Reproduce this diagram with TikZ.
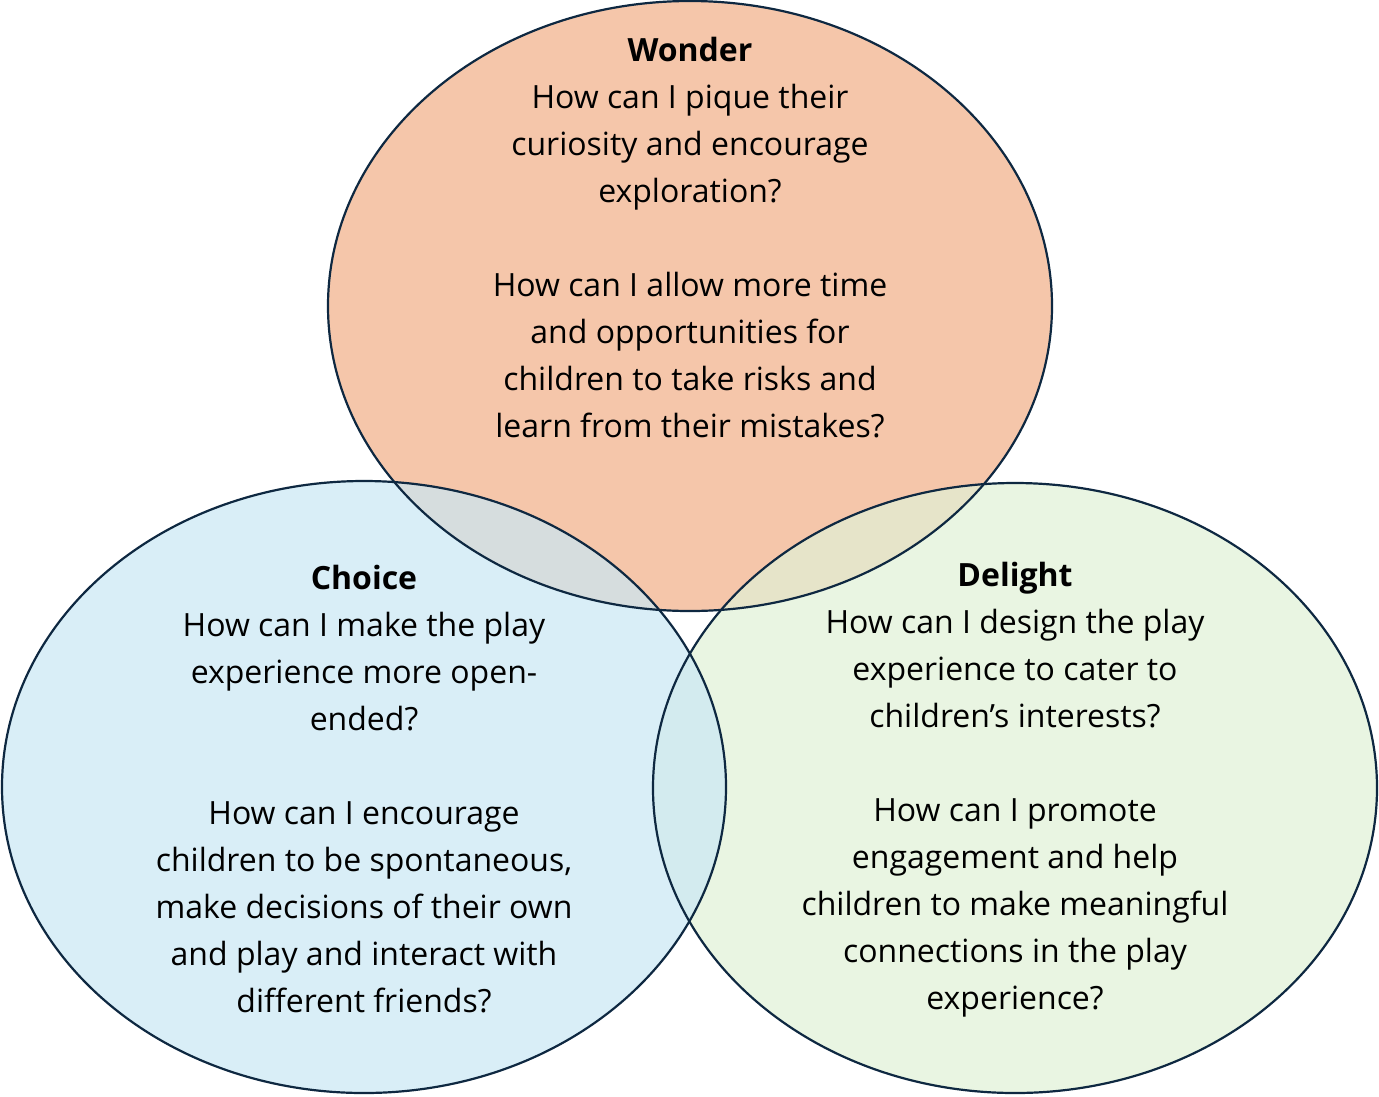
\documentclass[tikz,border=0pt]{standalone}
\usepackage{fontspec}
\setmainfont{Open Sans}
\begin{document}
\begin{tikzpicture}[x=1pt,y=-1pt,
  circ/.style={draw=navy,line width=2.2pt},
  txt/.style={align=center,font=\fontsize{32}{47}\selectfont,text=black}]
\definecolor{navy}{RGB}{14,40,65}
\definecolor{cpeach}{RGB}{245,198,170}
\definecolor{cblue}{RGB}{202,231,245}
\definecolor{cgreen}{RGB}{225,241,215}
\useasboundingbox (0,0) rectangle (1379,1096);
\fill[white] (0,0) rectangle (1379,1096);
\fill[cpeach] (690,306) ellipse [x radius=362,y radius=305];
\fill[cgreen,fill opacity=0.7] (1015,788) ellipse [x radius=362,y radius=305];
\fill[cblue,fill opacity=0.7] (364,787) ellipse [x radius=362,y radius=306];
\draw[circ] (690,306) ellipse [x radius=362,y radius=305];
\draw[circ] (364,787) ellipse [x radius=362,y radius=306];
\draw[circ] (1015,788) ellipse [x radius=362,y radius=305];
\node[txt] (w) at (690,238) {\textbf{Wonder}\\How can I pique their\\curiosity and encourage\\exploration?\\[47pt]How can I allow more time\\and opportunities for\\children to take risks and\\learn from their mistakes?};
\node[txt] (c) at (364,789) {\textbf{Choice}\\How can I make the play\\experience more open-\\ended?\\[47pt]How can I encourage\\children to be spontaneous,\\make decisions of their own\\and play and interact with\\different friends?};
\node[txt] (d) at (1015,790) {\textbf{Delight}\\How can I design the play\\experience to cater to\\children’s interests?\\[47pt]How can I promote\\engagement and help\\children to make meaningful\\connections in the play\\experience?};
\end{tikzpicture}
\end{document}
